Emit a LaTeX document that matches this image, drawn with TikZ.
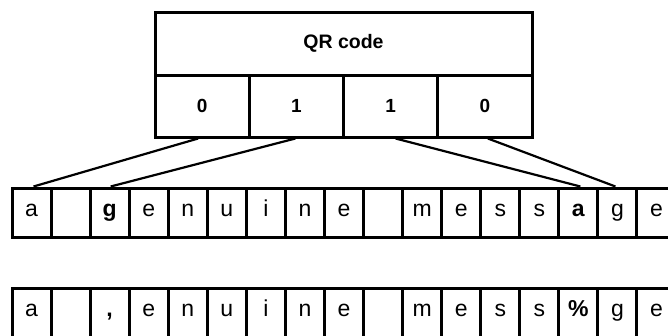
\documentclass[tikz,border=0pt]{standalone}
\usepackage{fontspec}
\setmainfont{Liberation Sans}
\begin{document}
\begin{tikzpicture}[x=1pt,y=-1pt,
  cellbox/.style={draw,line width=3pt,inner sep=0pt,minimum width=39.06pt,minimum height=49pt,
    font=\fontsize{23}{23}\selectfont,text height=16.1pt,text depth=7.5pt,anchor=center},
  qrbox/.style={draw,line width=3pt,inner sep=0pt,minimum width=94.25pt,minimum height=62pt,
    font=\fontsize{19}{19}\selectfont\bfseries},
  titlebox/.style={draw,line width=3pt,inner sep=0pt,minimum width=377pt,minimum height=63pt,
    font=\fontsize{19.5}{19.5}\selectfont\bfseries},
  conn/.style={line width=2.2pt}]
\clip (0,0) rectangle (668,335);
\fill[white] (0,0) rectangle (668,335);
% QR code box
\node[titlebox] (title) at (343.5,43.5) {QR code};
\foreach \d [count=\i from 0] in {0,1,1,0}
  \node[qrbox] (q\i) at ({155+94.25*\i+47.125},106) {\d};
% top row
\foreach \t [count=\i from 0] in {a,{},\textbf{g},e,n,u,i,n,e,{},m,e,s,s,\textbf{a},g,e}
  \node[cellbox] (t\i) at ({12+39.06*\i+19.53},212.5) {\t};
% bottom row
\foreach \t [count=\i from 0] in {a,{},{\textbf{,}},e,n,u,i,n,e,{},m,e,s,s,{\textbf{\%}},g,e}
  \node[cellbox] (b\i) at ({12+39.06*\i+19.53},312.5) {\t};
% connectors
\draw[conn] ([xshift=-4pt]q0.south) -- ([xshift=2pt]t0.north);
\draw[conn] ([xshift=-1pt]q1.south) -- ([xshift=1pt]t2.north);
\draw[conn] ([xshift=5pt]q2.south) -- ([xshift=2pt]t14.north);
\draw[conn] ([xshift=3pt]q3.south) -- ([xshift=-2pt]t15.north);
\end{tikzpicture}
\end{document}
